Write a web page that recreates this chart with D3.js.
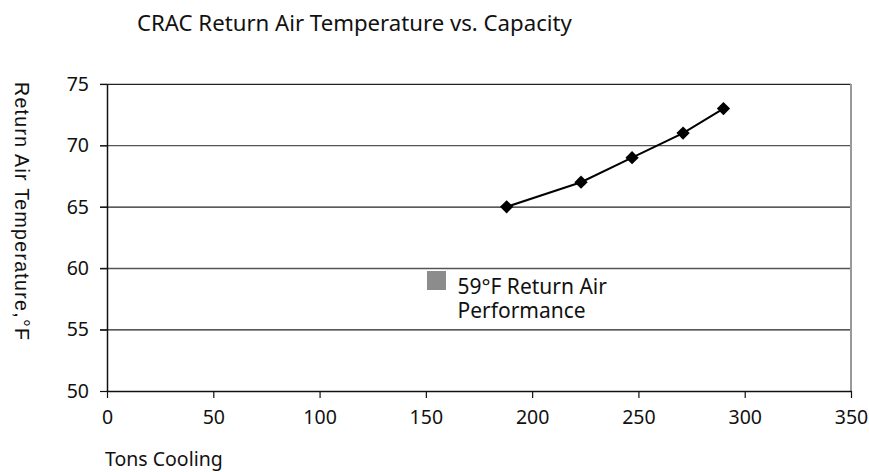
<!DOCTYPE html>
<html>
<head>
<meta charset="utf-8">
<script src="https://cdn.jsdelivr.net/npm/d3@7"></script>
<style>
  body { margin: 0; background: #fff; }
  text { font-family: "Noto Sans", sans-serif; fill: #111; }
</style>
</head>
<body>
<div id="chart"></div>
<script>
// data
var tons = [188, 223, 247, 271, 290];
var returnTemp = [65, 67, 69, 71, 73];
var refTons = [155];
var refTemp = [59];
var refLabel = ["59°F Return Air", "Performance"];
var xTicks = [0, 50, 100, 150, 200, 250, 300, 350];
var yTicks = [50, 55, 60, 65, 70, 75];

(function () {
  'use strict'

  var W = 869, H = 472;
  var margin = {top: 84, right: 18, bottom: 81, left: 107},
      width = W - margin.left - margin.right,
      height = H - margin.top - margin.bottom;

  var svg = d3.select("#chart").append("svg")
      .attr("width", W)
      .attr("height", H);

  var g = svg.append("g")
      .attr("transform", "translate(" + margin.left + "," + margin.top + ")");

  var x = d3.scaleLinear().domain([0, 350]).range([0, width]);
  var y = d3.scaleLinear().domain([50, 75]).range([height, 0]);

  // gridlines
  g.append("g").attr("class", "grid")
    .selectAll("line")
    .data(yTicks.slice(1))
    .enter().append("line")
    .attr("x1", -7).attr("x2", width)
    .attr("y1", function(d){ return y(d) + 0.3; })
    .attr("y2", function(d){ return y(d) + 0.3; })
    .attr("stroke", function(d, i){ return (i % 2 == 0) ? "#222" : "#555"; })
    .attr("stroke-width", 1.3);

  // right border
  g.append("line")
    .attr("x1", width).attr("x2", width)
    .attr("y1", 0).attr("y2", height)
    .attr("stroke", "#999")
    .attr("stroke-width", 2);

  var yAxis = g.append("g")
    .call(d3.axisLeft(y).tickValues(yTicks).tickSize(7).tickSizeOuter(0).tickPadding(11));
  var xAxis = g.append("g")
    .attr("transform", "translate(0," + height + ")")
    .call(d3.axisBottom(x).tickValues(xTicks).tickSize(7).tickSizeOuter(0).tickPadding(12));

  [yAxis, xAxis].forEach(function(a){
    a.selectAll(".domain").attr("stroke", "#111").attr("stroke-width", 1.5);
    a.selectAll(".tick line").attr("stroke", "#111").attr("stroke-width", 1.2);
    a.selectAll(".tick text").style("font-size", "19.5px").style("font-family", "Noto Sans").attr("fill", "#111");
  });

  // series line
  var pts = tons.map(function(d, i){ return [d, returnTemp[i]]; });
  g.append("path")
    .datum(pts)
    .attr("fill", "none")
    .attr("stroke", "#000")
    .attr("stroke-width", 2)
    .attr("d", d3.line().x(function(d){ return x(d[0]); }).y(function(d){ return y(d[1]); }));

  g.selectAll(".mk")
    .data(pts)
    .enter().append("path")
    .attr("class", "mk")
    .attr("d", d3.symbol().type(d3.symbolSquare).size(88))
    .attr("transform", function(d){ return "translate(" + x(d[0]) + "," + y(d[1]) + ") rotate(45)"; })
    .attr("fill", "#000");

  // reference point
  var refPts = refTons.map(function(d, i){ return [d, refTemp[i]]; });
  g.selectAll(".ref")
    .data(refPts)
    .enter().append("path")
    .attr("class", "ref")
    .attr("d", d3.symbol().type(d3.symbolSquare).size(361))
    .attr("transform", function(d){ return "translate(" + x(d[0]) + "," + y(d[1]) + ")"; })
    .attr("fill", "#8c8c8c");

  var lbl = g.append("text")
    .attr("x", x(refTons[0]) + 21)
    .attr("y", y(refTemp[0]) + 14)
    .style("font-size", "21px");
  lbl.selectAll("tspan")
    .data(refLabel)
    .enter().append("tspan")
    .attr("x", x(refTons[0]) + 21)
    .attr("dy", function(d, i){ return i == 0 ? 0 : 23.5; })
    .text(function(d){ return d; });

  // title and axis titles
  svg.append("text")
    .attr("x", 137).attr("y", 31)
    .style("font-size", "22.2px")
    .text("CRAC Return Air Temperature vs. Capacity");

  svg.append("text")
    .attr("transform", "translate(15,211) rotate(90)")
    .attr("text-anchor", "middle")
    .attr("textLength", 258)
    .attr("lengthAdjust", "spacing")
    .style("font-family", "Liberation Sans")
    .style("font-size", "19.5px")
    .text("Return Air Temperature,°F");

  svg.append("text")
    .attr("x", 105).attr("y", 466)
    .style("font-size", "19.5px")
    .text("Tons Cooling");
})()
</script>
</body>
</html>
